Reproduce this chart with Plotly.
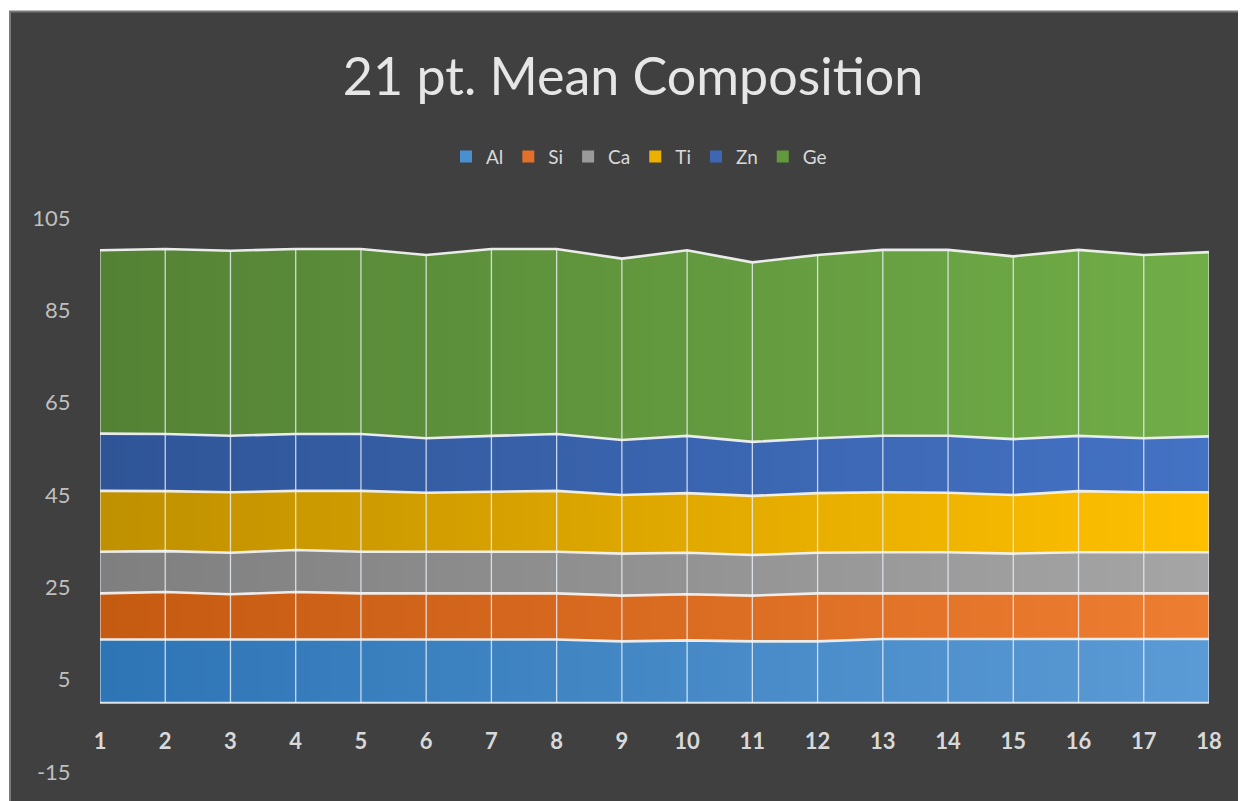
import plotly.graph_objects as go

categories = list(range(1, 19))

Al = [13.7, 13.7, 13.7, 13.7, 13.7, 13.7, 13.7, 13.7, 13.3, 13.5, 13.3, 13.3, 13.8, 13.8, 13.8, 13.8, 13.8, 13.8]
Si = [10.0, 10.3, 9.8, 10.3, 10.0, 10.0, 10.0, 10.0, 9.9, 10.0, 9.9, 10.4, 9.9, 9.9, 9.9, 9.9, 9.9, 9.9]
Ca = [9.0, 8.85, 9.0, 9.1, 9.0, 9.0, 9.0, 9.0, 9.1, 9.0, 8.8, 8.8, 8.9, 8.9, 8.6, 8.9, 8.9, 8.9]
Ti = [13.2, 13.0, 13.1, 12.8, 13.2, 12.8, 13.0, 13.2, 12.7, 12.9, 12.8, 12.9, 13.0, 12.9, 12.7, 13.25, 13.0, 13.0]
Zn = [12.4, 12.35, 12.25, 12.3, 12.3, 11.8, 12.1, 12.3, 11.9, 12.4, 11.7, 11.9, 12.25, 12.35, 12.1, 11.95, 11.7, 12.1]
Ge = [39.7, 40.1, 40.05, 40.1, 40.1, 39.7, 40.5, 40.1, 39.3, 40.2, 38.9, 39.7, 40.25, 40.25, 39.6, 40.3, 39.7, 39.9]

series_names = ["Al", "Si", "Ca", "Ti", "Zn", "Ge"]
series_values = [Al, Si, Ca, Ti, Zn, Ge]
y_ticks = [-15, 5, 25, 45, 65, 85, 105]
y_tick_labels = ["-15", "5", "25", "45", "65", "85", "105"]

colors = {
    "Al": ("#2E75B6", "#5B9BD5"),
    "Si": ("#C55A11", "#ED7D31"),
    "Ca": ("#7F7F7F", "#A5A5A5"),
    "Ti": ("#BF9000", "#FFC000"),
    "Zn": ("#2F5597", "#4472C4"),
    "Ge": ("#548235", "#70AD47"),
}
legend_colors = {
    "Al": "#4A8FD0", "Si": "#E0702A", "Ca": "#9A9A9A",
    "Ti": "#EBB000", "Zn": "#3D66B5", "Ge": "#63993D",
}

FONT = "Lato"
OFF = 8                      # page body margin
W, H = 1246, 801
# target pixel positions on page
PL, PR, PT, PB = 100, 1209, 218.3, 771.7
ML = PL - OFF
MT = PT - OFF
MR = (OFF + W) - PR
MB = (OFF + H) - PB

fig = go.Figure()
for name, vals in zip(series_names, series_values):
    c0, c1 = colors[name]
    fig.add_trace(go.Scatter(
        x=categories, y=vals, name=name, mode="lines",
        stackgroup="one", showlegend=False,
        line=dict(color="rgba(242,242,242,0.95)", width=2.6),
        fillcolor=c1,
        fillgradient=dict(type="horizontal", colorscale=[[0, c0], [1, c1]]),
        hoverinfo="x+y+name",
    ))

# drop lines from stacked total to zero
totals = [sum(v[i] for v in series_values) for i in range(len(categories))]
dx, dy = [], []
for c, t in zip(categories, totals):
    dx += [c, c, None]
    dy += [0, t, None]
fig.add_trace(go.Scatter(x=dx, y=dy, mode="lines", showlegend=False,
                         line=dict(color="rgba(235,242,250,0.8)", width=1.3),
                         hoverinfo="skip"))
# baseline outline
fig.add_trace(go.Scatter(x=[categories[0], categories[-1]], y=[0, 0], mode="lines",
                         showlegend=False, hoverinfo="skip",
                         line=dict(color="rgba(242,242,242,0.9)", width=2)))

# legend entries (square swatches)
for name in series_names:
    fig.add_trace(go.Bar(x=[None], y=[None], name=name,
                         marker=dict(color=legend_colors[name], line=dict(width=0))))

pw = W - ML - MR
ph = H - MT - MB
def px_to_paper_x(px):
    return (px - PL) / pw
def px_to_paper_y(py):
    return (PB - py) / ph

fig.add_shape(type="rect", xref="paper", yref="paper",
              x0=px_to_paper_x(10), x1=px_to_paper_x(1270),
              y0=px_to_paper_y(830), y1=px_to_paper_y(12),
              fillcolor="#404040", line=dict(color="#7a7a7a", width=2), layer="below")

fig.update_layout(
    width=W, height=H, autosize=False,
    margin=dict(l=ML, r=MR, t=MT, b=MB, pad=0),
    paper_bgcolor="white", plot_bgcolor="rgba(0,0,0,0)",
    title=dict(text="21 pt. Mean Composition", x=(633 - OFF) / W, xref="container", xanchor="center",
               y=1 - (77 - OFF) / H, yref="container", yanchor="middle",
               font=dict(family=FONT, size=52, color="#e6e6e6")),
    legend=dict(orientation="h", x=px_to_paper_x(639), xanchor="center", y=px_to_paper_y(157), yanchor="middle",
                font=dict(family=FONT, size=19, color="#d9d9d9"), traceorder="normal",
                bgcolor="rgba(0,0,0,0)", itemwidth=30),
    showlegend=True,
    xaxis=dict(range=[categories[0], categories[-1]], tickvals=categories,
               ticktext=[str(c) for c in categories],
               showgrid=False, zeroline=False, showline=False,
               anchor="free", position=15 / 120,
               ticks="outside", ticklen=0, ticklabelstandoff=19,
               tickfont=dict(family=FONT, size=22, color="#d9d9d9", weight="bold")),
    yaxis=dict(range=[-15, 105], tickvals=y_ticks, ticktext=y_tick_labels,
               showgrid=True, gridcolor="#5c5c5c",
               gridwidth=1, zeroline=False, showline=False,
               ticks="outside", ticklen=0, ticklabelstandoff=24,
               tickfont=dict(family=FONT, size=22, color="#bfbfbf")),
)

fig.write_html("out.html")
